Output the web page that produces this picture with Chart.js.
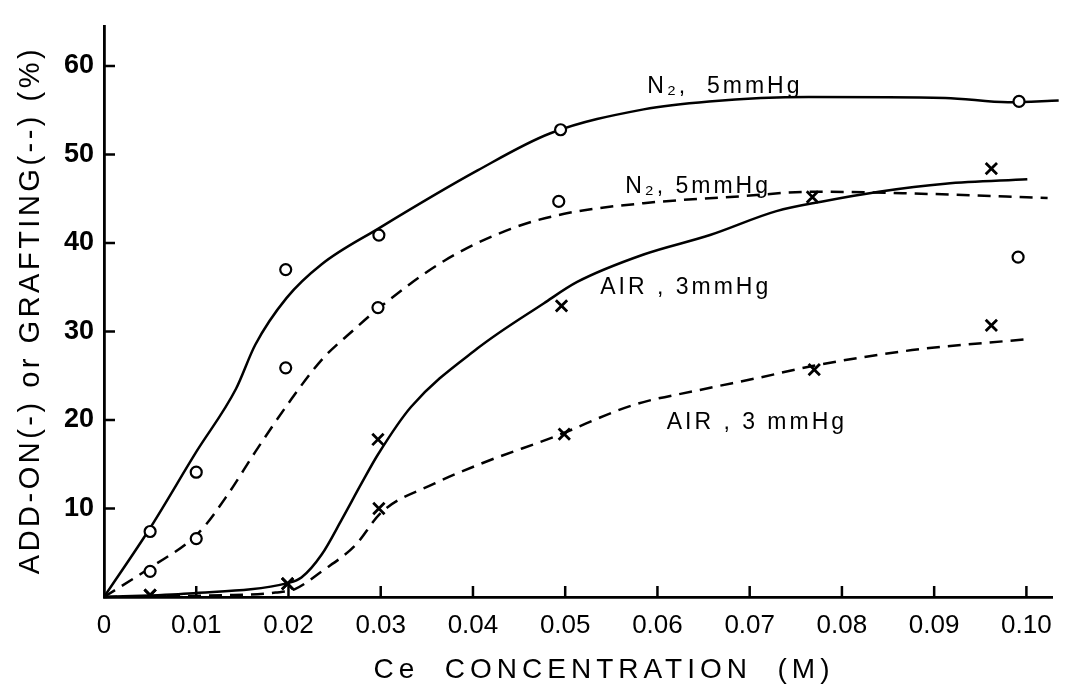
<!DOCTYPE html>
<html>
<head>
<meta charset="utf-8">
<title>Ce concentration vs add-on / grafting</title>
<script src="https://cdn.jsdelivr.net/npm/chart.js@4.4.1/dist/chart.umd.min.js"></script>
<style>
  html, body { margin: 0; padding: 0; background: #fff; }
  #chartGrafting { display: block; }
</style>
</head>
<body>
<canvas id="chartGrafting" width="1065" height="684"></canvas>
<script>
// axis ticks
const xTickValues = [0, 0.01, 0.02, 0.03, 0.04, 0.05, 0.06, 0.07, 0.08, 0.09, 0.10];
const xTickLabels = ['0', '0.01', '0.02', '0.03', '0.04', '0.05', '0.06', '0.07', '0.08', '0.09', '0.10'];
const yTickValues = [10, 20, 30, 40, 50, 60];

// measured points, N2 5 mmHg (circles)
const n2AddOnX = [0.005, 0.010, 0.0197, 0.0298, 0.0495, 0.0992];
const n2AddOnY = [7.4, 14.1, 37.0, 40.9, 52.8, 56.0];
const n2GraftX = [0.005, 0.010, 0.0197, 0.0297, 0.0493, 0.0991];
const n2GraftY = [2.9, 6.6, 25.9, 32.7, 44.7, 38.4];

// measured points, AIR 3 mmHg (crosses)
const airAddOnX = [0.005, 0.0199, 0.0297, 0.0496, 0.0768, 0.0962];
const airAddOnY = [0.2, 1.5, 17.8, 32.9, 45.2, 48.4];
const airGraftX = [0.005, 0.0199, 0.0298, 0.0499, 0.0770, 0.0962];
const airGraftY = [0.2, 1.5, 10.0, 18.4, 25.7, 30.7];

// hand-drawn curves through the points
const n2AddOnCurveX = [0, 0.005, 0.010, 0.0143, 0.0164, 0.0198, 0.0236, 0.0297, 0.0405, 0.0484, 0.0585, 0.0656, 0.0764, 0.0912, 0.0980, 0.1035];
const n2AddOnCurveY = [0, 7.8, 16.4, 23.5, 28.5, 33.8, 37.6, 41.6, 48.2, 52.4, 55.1, 56.0, 56.5, 56.4, 55.9, 56.1];
const n2GraftCurveX = [0, 0.005, 0.0103, 0.0135, 0.0164, 0.020, 0.0236, 0.0272, 0.0301, 0.0369, 0.0441, 0.0499, 0.0585, 0.0693, 0.0768, 0.0876, 0.1023];
const n2GraftCurveY = [0, 3.3, 7.3, 11.7, 16.4, 21.9, 26.8, 30.3, 32.9, 38.0, 41.6, 43.3, 44.5, 45.3, 45.8, 45.6, 45.1];
const airAddOnCurveX = [0, 0.0092, 0.020, 0.0214, 0.0236, 0.0258, 0.0279, 0.0297, 0.0333, 0.0405, 0.0477, 0.0513, 0.0585, 0.0657, 0.0729, 0.0779, 0.0840, 0.0912, 0.1001];
const airAddOnCurveY = [0, 0.4, 1.6, 2.2, 4.8, 8.8, 12.8, 16.1, 21.5, 28.1, 33.2, 35.6, 38.7, 40.9, 43.6, 44.7, 45.8, 46.7, 47.2];
const airGraftCurveX = [0, 0.0128, 0.0186, 0.0207, 0.0236, 0.0272, 0.0301, 0.0358, 0.0412, 0.0488, 0.0574, 0.0646, 0.0711, 0.0768, 0.0876, 0.0997];
const airGraftCurveY = [0, 0.2, 0.5, 0.9, 2.9, 5.8, 9.6, 12.8, 15.2, 18.1, 21.7, 23.4, 24.8, 26.1, 27.9, 29.1];

// curve captions, anchored in data units (left edge, vertical middle)
const curveLabels = [
    { text: 'N\u2082,  5mmHg', x: 0.0589, y: 57.7 },
    { text: 'N\u2082, 5mmHg', x: 0.0565, y: 46.4 },
    { text: 'AIR , 3mmHg', x: 0.0538, y: 34.9 },
    { text: 'AIR , 3 mmHg', x: 0.0610, y: 19.7 }
];

const xTitle = 'Ce  CONCENTRATION  (M)';
const yTitle = 'ADD-ON(-) or GRAFTING(--) (%)';

const FONT = '"Liberation Sans", Arial, Helvetica, sans-serif';
const INK = '#000';

function pts(xs, ys) {
    return xs.map((x, i) => ({ x: x, y: ys[i] }));
}

function curve(xs, ys, dashed) {
    return {
        data: pts(xs, ys),
        showLine: true,
        borderColor: INK,
        borderWidth: 2.5,
        borderDash: dashed ? [13, 8] : [],
        cubicInterpolationMode: 'monotone',
        pointRadius: 0,
        clip: false,
        order: 1
    };
}

function markers(xs, ys, style) {
    const round = style === 'circle';
    return {
        data: pts(xs, ys),
        showLine: false,
        pointStyle: style,
        pointRadius: round ? 5.5 : 8,
        pointBackgroundColor: '#fff',
        pointBorderColor: INK,
        pointBorderWidth: round ? 2.2 : 2.8,
        order: 0
    };
}

// inward tick marks, axis titles and curve captions
const decorPlugin = {
    id: 'decor',
    afterDatasetsDraw(chart) {
        const ctx = chart.ctx;
        const xs = chart.scales.x;
        const ys = chart.scales.y;
        const area = chart.chartArea;
        ctx.save();
        ctx.strokeStyle = INK;
        ctx.lineWidth = 2.5;
        ctx.beginPath();
        xTickValues.slice(1).forEach(v => {
            const px = xs.getPixelForValue(v);
            ctx.moveTo(px, area.bottom);
            ctx.lineTo(px, area.bottom - 11);
        });
        yTickValues.forEach(v => {
            const py = ys.getPixelForValue(v);
            ctx.moveTo(area.left, py);
            ctx.lineTo(area.left + 11, py);
        });
        ctx.stroke();

        ctx.fillStyle = INK;
        ctx.textBaseline = 'middle';
        ctx.textAlign = 'left';
        ctx.font = '23px ' + FONT;
        ctx.letterSpacing = '3px';
        curveLabels.forEach(l => {
            ctx.fillText(l.text, xs.getPixelForValue(l.x), ys.getPixelForValue(l.y));
        });

        ctx.textAlign = 'center';
        ctx.font = '28px ' + FONT;
        ctx.letterSpacing = '5px';
        ctx.fillText(xTitle, 604, 670);

        ctx.translate(31, 310);
        ctx.rotate(-Math.PI / 2);
        ctx.font = '29px ' + FONT;
        ctx.letterSpacing = '3.5px';
        ctx.fillText(yTitle, 0, 0);
        ctx.restore();
    }
};

new Chart(document.getElementById('chartGrafting'), {
    type: 'scatter',
    data: {
        datasets: [
            curve(n2AddOnCurveX, n2AddOnCurveY, false),
            curve(n2GraftCurveX, n2GraftCurveY, true),
            curve(airAddOnCurveX, airAddOnCurveY, false),
            curve(airGraftCurveX, airGraftCurveY, true),
            markers(n2AddOnX, n2AddOnY, 'circle'),
            markers(n2GraftX, n2GraftY, 'circle'),
            markers(airAddOnX, airAddOnY, 'crossRot'),
            markers(airGraftX, airGraftY, 'crossRot')
        ]
    },
    options: {
        responsive: false,
        animation: false,
        devicePixelRatio: 1,
        layout: { padding: { top: 8, right: 8, left: 0, bottom: 0 } },
        plugins: {
            legend: { display: false },
            tooltip: { enabled: false }
        },
        scales: {
            x: {
                type: 'linear',
                min: 0,
                max: 0.1028,
                afterBuildTicks: s => { s.ticks = xTickValues.map(v => ({ value: v })); },
                afterFit: s => { s.height = 87; },
                grid: { drawOnChartArea: false, drawTicks: false },
                border: { color: INK, width: 2.8 },
                ticks: {
                    color: INK,
                    padding: 13,
                    maxRotation: 0,
                    autoSkip: false,
                    font: { family: FONT, size: 26 },
                    callback: (value, i) => xTickLabels[i]
                }
            },
            y: {
                type: 'linear',
                min: 0,
                max: 64.5,
                afterBuildTicks: s => { s.ticks = yTickValues.map(v => ({ value: v })); },
                afterFit: s => { s.width = 104; },
                grid: { drawOnChartArea: false, drawTicks: false },
                border: { color: INK, width: 2.8 },
                ticks: {
                    color: INK,
                    padding: 10,
                    autoSkip: false,
                    font: { family: FONT, size: 27, weight: 'bold' }
                }
            }
        }
    },
    plugins: [decorPlugin]
});
</script>
</body>
</html>
